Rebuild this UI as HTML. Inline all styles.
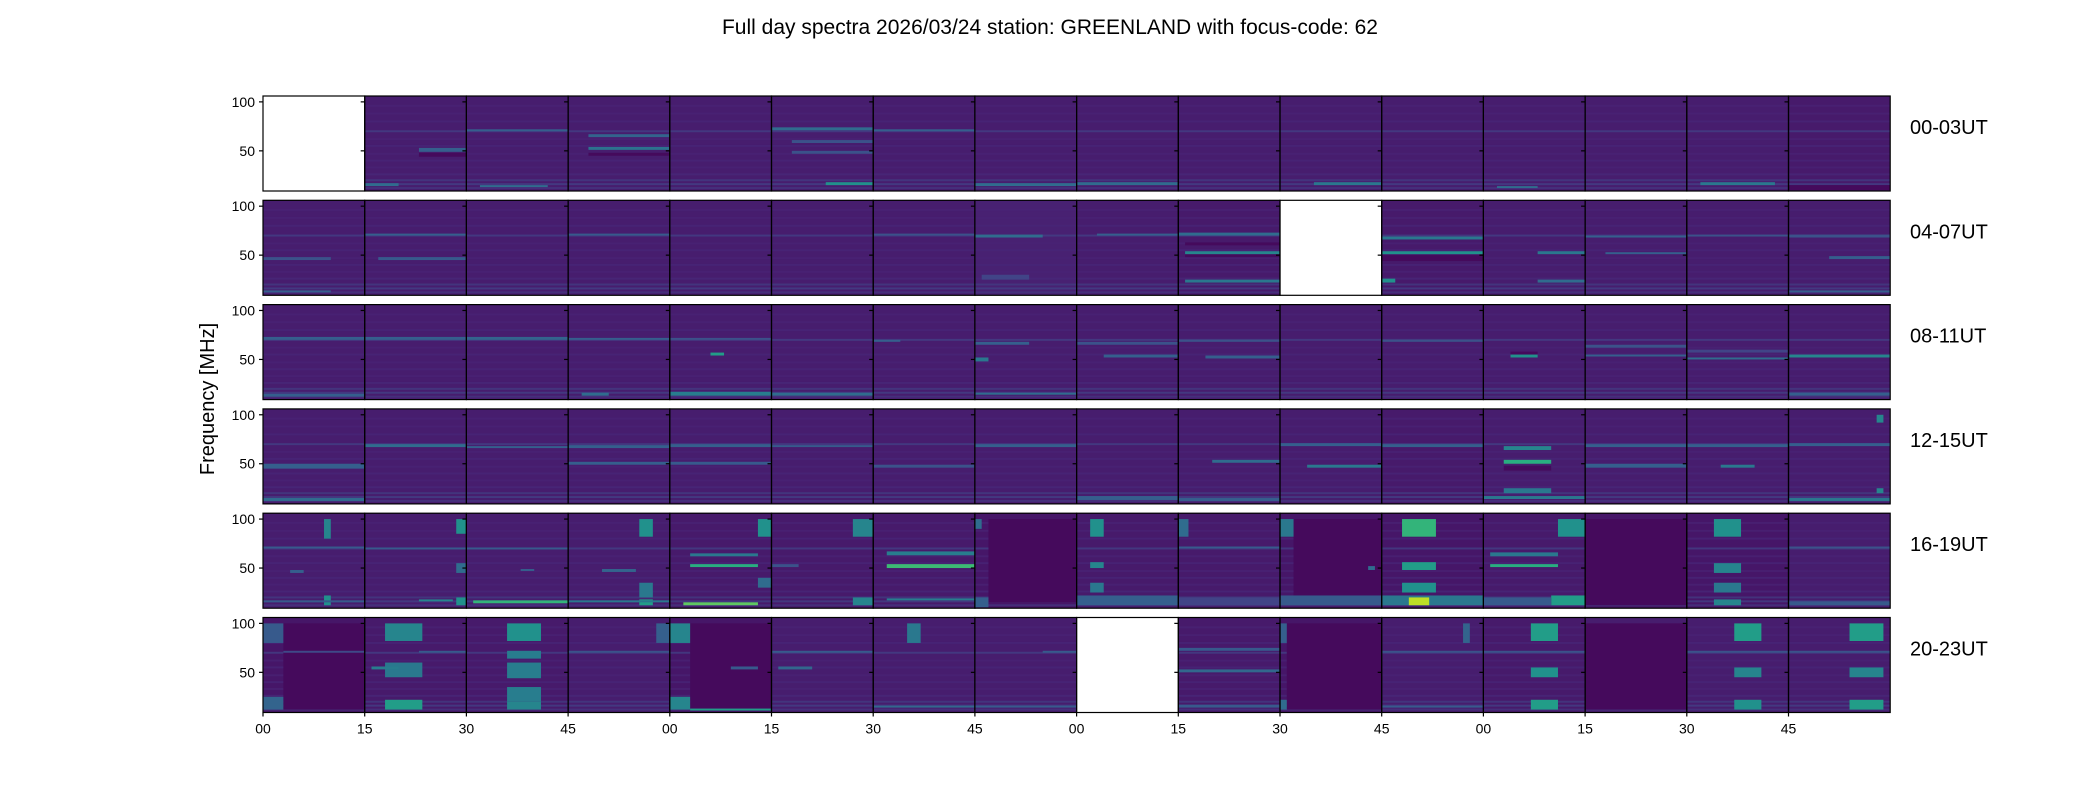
<!DOCTYPE html>
<html><head><meta charset="utf-8">
<style>
html,body{margin:0;padding:0;background:#fff;}
body{width:2100px;height:800px;overflow:hidden;font-family:"Liberation Sans",sans-serif;}
svg text{font-family:"Liberation Sans",sans-serif;fill:#000;}
</style></head>
<body>
<svg id="fig" width="2100" height="800" viewBox="0 0 2100 800" xmlns="http://www.w3.org/2000/svg">
<text x="1050" y="34" font-size="21" text-anchor="middle">Full day spectra 2026/03/24 station: GREENLAND with focus-code: 62</text>
<text x="0" y="0" font-size="20" text-anchor="middle" transform="translate(214,399) rotate(-90)">Frequency [MHz]</text>
<g id="panels"></g>
<g id="axes"></g>
</svg>
<script>
// ---- data ----
const rowLabels = ["00-03UT","04-07UT","08-11UT","12-15UT","16-19UT","20-23UT"];
const xTickLabels = ["00","15","30","45","00","15","30","45","00","15","30","45","00","15","30","45"];
const yTickValues = [100, 50];
const freqDomain = [9, 106];
const timeDomain = [0, 15];
const blankPanels = [0, 26, 88];
// background level per panel (viridis fraction), 6 rows x 16
const panelBase = [
 0.08,0.08,0.08,0.08,0.08,0.08,0.08,0.08,0.08,0.08,0.08,0.08,0.08,0.08,0.08,0.07,
 0.08,0.08,0.08,0.08,0.08,0.08,0.08,0.09,0.08,0.07,0.08,0.07,0.08,0.08,0.08,0.08,
 0.08,0.08,0.08,0.08,0.08,0.08,0.08,0.08,0.08,0.08,0.08,0.08,0.08,0.08,0.08,0.08,
 0.08,0.08,0.08,0.08,0.08,0.08,0.08,0.08,0.08,0.08,0.08,0.07,0.08,0.08,0.08,0.08,
 0.08,0.08,0.08,0.08,0.07,0.07,0.07,0.06,0.07,0.07,0.06,0.06,0.07,0.06,0.06,0.08,
 0.06,0.07,0.07,0.08,0.06,0.08,0.08,0.08,0.08,0.07,0.06,0.08,0.07,0.08,0.08,0.08
];
// faint horizontal stripes common to all panels
const stripeFreqs = [96, 88, 80, 70, 62, 55, 47, 40, 33, 26, 20, 16, 12];
const stripeLevels = [0.1, 0.1, 0.11, 0.2, 0.1, 0.11, 0.1, 0.11, 0.1, 0.12, 0.18, 0.2, 0.16];
// quiet (dark) regions: [panel, fLow, fHigh, tStart, tEnd]
const darkRegions = [
 [1,44,48,8,15],[3,45,48,3,15],[15,10,15,0,15],[25,60,63,1,15],[25,48,51,1,15],[27,44,50,0,15],[44,55,58,4,8],[60,43,48,3,10],
 [71,15,100,2,15],[74,15,100,2,15],[77,12,100,0,15],[80,12,100,3,15],[84,13,100,3,15],[90,12,100,1,15],[93,12,100,0,15]
];
// features: [panel, fLow, fHigh, tStart, tEnd, level]
const bands = [
 [1,49,53,8,15,0.3],[1,14,17,0,5,0.35],
 [2,70,72,0,15,0.3],[2,13,15,2,12,0.35],
 [3,64,67,3,15,0.32],[3,51,54,3,15,0.38],
 [5,71,74,0,15,0.35],[5,58,61,3,15,0.25],[5,47,50,3,15,0.25],[5,15,18,8,15,0.5],
 [6,70,72,0,15,0.3],[7,14,17,0,15,0.35],[8,15,18,0,15,0.35],[10,15,18,5,15,0.4],[12,12,14,2,8,0.35],[14,15,18,2,13,0.4],
 [16,45,48,0,10,0.25],[16,12,14,0,10,0.3],[17,45,48,2,15,0.28],[17,70,72,0,15,0.3],
 [19,70,72,0,15,0.28],[22,70,72,0,15,0.25],[23,68,71,0,10,0.35],[23,25,30,1,8,0.2],
 [24,70,72,3,15,0.3],[25,70,73,0,15,0.35],[25,51,54,1,15,0.45],[25,22,25,1,15,0.4],
 [27,66,69,0,15,0.4],[27,51,54,0,15,0.5],[27,22,26,0,2,0.5],
 [28,51,54,8,15,0.4],[28,22,25,8,15,0.35],[29,68,70,0,15,0.3],[29,51,53,3,15,0.3],
 [30,69,71,0,15,0.25],[31,68,71,0,15,0.25],[31,46,49,6,15,0.3],[31,12,14,0,15,0.3],
 [32,70,73,0,15,0.3],[32,12,15,0,15,0.3],[33,70,73,0,15,0.3],[34,70,73,0,15,0.32],[35,70,72,0,15,0.3],[35,13,16,2,6,0.35],
 [36,70,72,0,15,0.25],[36,54,57,6,8,0.55],[36,13,17,0,15,0.42],[37,13,16,0,15,0.35],[38,68,70,0,4,0.3],
 [39,65,68,0,8,0.3],[39,48,52,0,2,0.4],[39,14,16,0,15,0.35],[40,65,68,0,15,0.25],[40,52,55,4,15,0.3],
 [41,68,70,0,15,0.25],[41,51,54,4,15,0.3],[43,68,70,0,15,0.25],[44,52,55,4,8,0.5],
 [45,62,65,0,15,0.25],[45,53,55,0,15,0.3],[46,57,60,0,15,0.2],[46,50,52,0,15,0.35],
 [47,52,55,0,15,0.45],[47,13,16,0,15,0.3],
 [48,45,50,0,15,0.3],[48,12,15,0,15,0.35],[49,67,70,0,15,0.35],[50,66,68,0,15,0.3],
 [51,66,69,0,15,0.3],[51,49,52,0,15,0.3],[52,67,70,0,15,0.3],[52,49,52,0,15,0.28],
 [53,67,69,0,15,0.28],[54,46,49,0,15,0.25],[55,67,70,0,15,0.3],
 [56,13,17,0,15,0.3],[57,51,54,5,15,0.35],[57,12,15,0,15,0.3],[58,46,49,4,15,0.4],[58,68,71,0,15,0.3],
 [59,67,70,0,15,0.3],
 [60,64,68,3,10,0.45],[60,50,54,3,10,0.62],[60,20,25,3,10,0.4],[60,14,17,0,15,0.4],
 [61,67,70,0,15,0.3],[61,46,50,0,15,0.3],[62,46,49,5,10,0.4],[62,67,70,0,15,0.3],
 [63,68,71,0,15,0.3],[63,12,15,0,15,0.4],[63,92,100,13,14,0.45],[63,20,25,13,14,0.45],
 [64,80,100,9,10,0.45],[64,70,72,0,15,0.28],[64,45,48,4,6,0.3],[64,12,22,9,10,0.5],[64,15,17,0,15,0.28],
 [65,85,100,13.5,15,0.5],[65,45,55,13.5,15,0.35],[65,12,20,13.5,15,0.5],[65,69,71,0,15,0.28],[65,16,18,8,13,0.45],
 [66,69,71,0,15,0.28],[66,14,17,1,15,0.65],[66,47,49,8,10,0.3],
 [67,82,100,10.5,12.5,0.5],[67,20,35,10.5,12.5,0.4],[67,12,18,10.5,12.5,0.55],[67,46,49,5,10,0.32],[67,15,17,0,15,0.4],
 [68,82,100,13,15,0.5],[68,62,65,3,13,0.4],[68,51,54,3,13,0.62],[68,12,15,2,13,0.75],[68,30,40,13,15,0.35],
 [69,82,100,12,15,0.45],[69,12,20,12,15,0.45],[69,51,54,0,4,0.25],
 [70,63,67,2,15,0.42],[70,50,54,2,15,0.68],[70,17,19,2,15,0.42],
 [71,10,20,0,2,0.3],[71,90,100,0,1,0.35],
 [72,82,100,2,4,0.5],[72,50,56,2,4,0.45],[72,25,35,2,4,0.4],[72,12,22,0,15,0.3],
 [73,70,72,0,15,0.28],[73,82,100,0,1.5,0.35],[73,12,20,0,15,0.2],
 [74,82,100,0,2,0.4],[74,12,22,0,15,0.28],[74,48,52,13,14,0.35],
 [75,82,100,3,8,0.65],[75,48,56,3,8,0.55],[75,25,35,3,8,0.5],[75,12,22,0,15,0.4],[75,12,20,4,7,0.9],
 [76,62,66,1,11,0.4],[76,51,54,1,11,0.62],[76,82,100,11,15,0.5],[76,12,22,10,15,0.55],[76,12,20,0,10,0.28],
 [78,82,100,4,8,0.5],[78,45,55,4,8,0.45],[78,25,35,4,8,0.4],[78,12,18,4,8,0.45],
 [79,70,72,0,15,0.25],[79,12,16,0,15,0.28],
 [80,12,25,0,3,0.32],[80,80,100,0,3,0.28],[80,70,72,3,15,0.22],
 [81,82,100,3,8.5,0.45],[81,45,60,3,8.5,0.4],[81,12,22,3,8.5,0.55],[81,53,56,1,5,0.42],[81,70,72,8,15,0.28],
 [82,82,100,6,11,0.5],[82,64,72,6,11,0.42],[82,44,60,6,11,0.42],[82,20,35,6,11,0.42],[82,12,20,6,11,0.45],
 [83,80,100,13,15,0.3],[83,70,72,0,15,0.25],
 [84,12,25,0,3,0.45],[84,80,100,0,3,0.45],[84,11,13,3,15,0.55],[84,53,56,9,13,0.28],
 [85,53,56,1,6,0.33],[85,70,72,0,15,0.28],
 [86,80,100,5,7,0.4],[86,14,16,0,15,0.33],
 [87,70,72,10,15,0.28],[87,14,16,0,15,0.28],
 [89,72,75,0,15,0.28],[89,50,53,0,15,0.33],[89,14,17,0,15,0.28],
 [90,12,22,0,1,0.35],[90,80,100,0,1,0.3],
 [91,80,100,12,13,0.32],[91,70,72,0,15,0.25],[91,14,16,0,15,0.28],
 [92,82,100,7,11,0.55],[92,45,55,7,11,0.5],[92,12,22,7,11,0.55],[92,70,72,0,15,0.25],
 [94,82,100,7,11,0.55],[94,45,55,7,11,0.45],[94,12,22,7,11,0.5],[94,70,72,0,15,0.25],
 [95,82,100,9,14,0.55],[95,45,55,9,14,0.45],[95,12,22,9,14,0.55],[95,70,72,0,15,0.25]
];
// ---- layout ----
const L = 263, PW = 101.7, T0 = 96, RS = 104.3, H = 95, NC = 16;
const vir = [[68,1,84],[72,36,117],[65,68,135],[53,95,141],[42,120,142],[33,145,140],[34,168,132],[68,191,112],[122,209,81],[189,223,38],[253,231,37]];
function viridis(v){v=Math.max(0,Math.min(1,v))*10;const i=Math.min(9,Math.floor(v)),f=v-i;const a=vir[i],b=vir[i+1];return `rgb(${a.map((c,k)=>Math.round(c+(b[k]-c)*f)).join(',')})`;}
function panelX(c){return L + c*PW;}
function rowY(r){return T0 + r*RS;}
function xScale(c,t){return panelX(c) + (t-timeDomain[0])/(timeDomain[1]-timeDomain[0])*PW;}
function yScale(r,f){return rowY(r) + (freqDomain[1]-f)/(freqDomain[1]-freqDomain[0])*H;}
function clipY(r,y){return Math.max(rowY(r),Math.min(rowY(r)+H,y));}
const NS='http://www.w3.org/2000/svg';
function mk(tag,attrs,parent){const e=document.createElementNS(NS,tag);for(const k in attrs)e.setAttribute(k,attrs[k]);parent.appendChild(e);return e;}
const gp=document.getElementById('panels'), ga=document.getElementById('axes');
for(let p=0;p<96;p++){
  const r=Math.floor(p/NC), c=p%NC;
  const g=mk('g',{},gp);
  
  
  if(blankPanels.includes(p)){mk('rect',{x:panelX(c),y:rowY(r),width:PW,height:H,fill:'#fff'},g);continue;}
  const bg=mk('rect',{x:panelX(c),y:rowY(r),width:PW,height:H,fill:viridis(panelBase[p])},g);
  
  
  stripeFreqs.forEach((f,i)=>{
    const s=mk('rect',{x:panelX(c),y:yScale(r,f+1),width:PW,height:Math.max(1,yScale(r,f-1)-yScale(r,f+1)),fill:viridis(stripeLevels[i]),opacity:0.7},g);
    
    
  });
  darkRegions.filter(d=>d[0]===p).forEach(d=>{
    const y0=clipY(r,yScale(r,d[2])), y1=clipY(r,yScale(r,d[1]));
    const e=mk('rect',{x:xScale(c,d[3]),y:y0,width:xScale(c,d[4])-xScale(c,d[3]),height:y1-y0,fill:viridis(0.025)},g);
    
    
  });
  bands.filter(b=>b[0]===p).forEach(b=>{
    const x0=xScale(c,b[3]), x1=xScale(c,b[4]), y0=clipY(r,yScale(r,b[2])), y1=clipY(r,yScale(r,b[1]));
    const e=mk('rect',{x:x0,y:y0,width:x1-x0,height:y1-y0,fill:viridis(b[5])},g);
    
    
  });
}
// axes: spines, ticks, labels
for(let r=0;r<6;r++){
  for(let c=0;c<NC;c++){
    const sp=mk('rect',{x:panelX(c),y:rowY(r),width:PW,height:H,fill:'none',stroke:'#000','stroke-width':1.2},ga);
    
    
    yTickValues.forEach(v=>{
      const t=mk('line',{x1:panelX(c)-4,x2:panelX(c),y1:yScale(r,v),y2:yScale(r,v),stroke:'#000','stroke-width':1.2},ga);
      
      
    });
  }
  yTickValues.forEach(v=>{
    const tl=mk('text',{x:panelX(0)-8,y:yScale(r,v)+5,'font-size':14,'text-anchor':'end'},ga);
    tl.textContent=v;
    
    
  });
  const rl=mk('text',{x:1910,y:rowY(r)+38,'font-size':20},ga);
  rl.textContent=rowLabels[r];
  
  
}
xTickLabels.forEach((lab,c)=>{
  const x=panelX(c), yb=rowY(5)+H;
  const t=mk('line',{x1:x,x2:x,y1:yb,y2:yb+4,stroke:'#000','stroke-width':1.2},ga);
  
  
  const tl=mk('text',{x:x,y:yb+21,'font-size':14,'text-anchor':'middle'},ga);
  tl.textContent=lab;
  
  
});
</script>
</body></html>
